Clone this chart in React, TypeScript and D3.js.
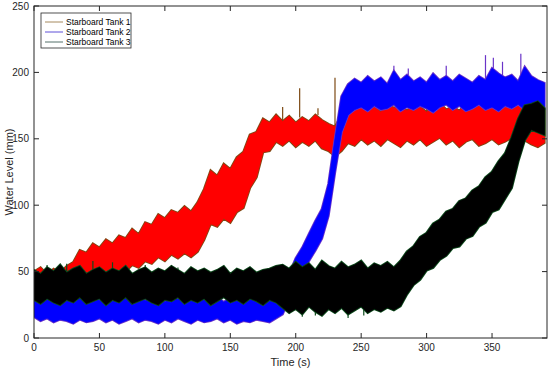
import React from 'react';
import * as d3 from 'd3';

// sample times (s), one every 5 s
const TIME = d3.range(0, 391, 5);

// Starboard Tank 1 band (mm)
const tank1Lo = [38, 35, 39, 36, 34, 37,
  36, 41, 39, 45, 43, 48, 46, 51, 50, 55, 53, 58, 56, 61, 58, 63, 60, 64, 61, 65,
  74, 86, 84, 90, 87, 95, 98, 113, 121, 140, 141, 148,
  145, 149, 144, 148, 145, 149, 143, 141, 137,
  141, 147, 145, 150, 146, 149, 145, 150, 147, 144, 149, 146, 150, 145, 148, 151,
  146, 149, 144, 148, 150, 145, 147, 150, 146, 148, 151, 145, 149, 146, 144, 147];
const tank1Hi = [50, 53, 48, 52, 49, 54,
  57, 66, 64, 71, 68, 74, 71, 77, 75, 82, 78, 87, 85, 93, 90, 96, 94, 99, 95, 102,
  112, 126, 122, 131, 127, 136, 140, 153, 155, 165, 162, 168,
  163, 167, 162, 166, 163, 168, 164, 161, 159,
  168, 175, 171, 176, 172, 174, 170, 177, 173, 175, 171, 176, 174, 170, 175, 177,
  172, 174, 171, 176, 174, 184, 187, 179, 175, 178, 174, 182, 189, 180, 177, 172];
const tank1Spikes = [[190, 174], [203, 188], [217, 173], [230, 196], [262, 180], [283, 181],
  [300, 180], [320, 178], [345, 190], [372, 192]];

// Starboard Tank 2 band (mm)
const tank2Lo = [16, 13, 15, 12, 14, 13, 11, 14, 12, 13, 15, 12, 14, 11, 13, 15, 12, 14, 13, 11,
  14, 12, 15, 13, 11, 14, 12, 13, 15, 12, 14, 11, 13, 12, 14, 13, 12, 15,
  18, 30, 42, 50, 58, 66, 75, 92, 125, 155, 168, 172,
  174, 171, 175, 172, 173, 176, 171, 174, 172, 175, 173, 170, 174, 176, 172, 175, 171, 173, 176, 172,
  174, 171, 175, 173, 176, 172, 174, 175, 173];
const tank2Hi = [31, 28, 33, 29, 32, 30, 27, 31, 29, 33, 28, 32, 30, 27, 31, 29, 33, 28, 30, 32,
  27, 31, 29, 33, 30, 28, 32, 29, 31, 27, 30, 33, 28, 31, 29, 32, 30, 33,
  36, 48, 60, 68, 78, 88, 97, 116, 150, 182, 191, 195,
  192, 197, 193, 196, 191, 201, 194, 198, 193, 196, 192, 199, 194, 197, 193, 198, 195, 192, 197, 194,
  203, 199, 196, 198, 193, 204, 197, 194, 192];
const tank2Spikes = [[275, 205], [286, 203], [315, 205], [345, 213], [351, 211], [358, 208], [372, 214]];

// Starboard Tank 3 band (mm)
const tank3Lo = [29, 26, 30, 27, 25, 29, 27, 31, 26, 28, 30, 25, 29, 27, 31, 26, 28, 30, 27, 25,
  29, 28, 31, 26, 29, 27, 30, 25, 28, 31, 27, 29, 26, 30, 28, 25, 29, 27,
  23, 19, 22, 18, 24, 20, 17, 22, 19, 23, 18, 21, 24, 19, 22, 20, 23, 21, 24,
  33, 40, 44, 51, 53, 59, 62, 68, 69, 75, 77, 84, 87, 95, 97, 105, 113, 133, 149, 157, 155, 153];
const tank3Hi = [51, 48, 53, 50, 55, 49, 52, 54, 48, 51, 53, 49, 52, 50, 54, 48, 51, 53, 49, 52,
  50, 54, 51, 48, 53, 50, 52, 49, 51, 54, 48, 52, 50, 53, 49, 51, 52, 54,
  55, 52, 57, 53, 56, 51, 58, 54, 52, 57, 53, 55, 58, 52, 56, 54, 57, 53, 58,
  65, 69, 76, 79, 86, 89, 95, 97, 103, 105, 111, 114, 121, 125, 133, 139, 151, 165, 175, 176, 178, 173];
const tank3Spikes = [[10, 55], [25, 56], [45, 58], [60, 57], [85, 55], [110, 53], [130, 52],
  [205, 16], [215, 17], [240, 15], [252, 17]];

const LABELS = ['Starboard Tank 1', 'Starboard Tank 2', 'Starboard Tank 3'];
const X_TICKS = [0, 50, 100, 150, 200, 250, 300, 350];
const Y_TICKS = [0, 50, 100, 150, 200, 250];

const W = 550;
const H = 370;
const FONT = '"Liberation Sans", Arial, sans-serif';

const x = d3.scaleLinear().domain([0, 392]).range([34, 547]);
const y = d3.scaleLinear().domain([0, 250]).range([338, 6]);

const tanks = [
  { lo: tank1Lo, hi: tank1Hi, spikes: tank1Spikes, color: '#ff0000', raw: '#7d4a14', legend: '#a68a5e' },
  { lo: tank2Lo, hi: tank2Hi, spikes: tank2Spikes, color: '#0000ff', raw: '#6a34c8', legend: '#5f50d8' },
  { lo: tank3Lo, hi: tank3Hi, spikes: tank3Spikes, color: '#000000', raw: '#0d4a1c', legend: '#55706a' },
];

const band = (lo: number[], hi: number[]) =>
  d3.area<number>()
    .x((t) => x(t))
    .y0((_, i) => y(lo[i]))
    .y1((_, i) => y(hi[i]))(TIME) || '';

export default function App() {
  const [x0, x1] = x.range();
  const [y0, y1] = y.range();
  return (
    <svg width={W} height={H} style={{ position: 'absolute', left: 0, top: 0, background: '#fff' }}>
      <defs>
        <clipPath id="plot">
          <rect x={x0} y={y1} width={x1 - x0} height={y0 - y1} />
        </clipPath>
      </defs>

      <g clipPath="url(#plot)">
        {tanks.map((tk, k) => {
          const d = band(tk.lo, tk.hi);
          return (
            <g key={k}>
              <path d={d} fill={tk.raw} stroke={tk.raw} strokeWidth={2.5} strokeLinejoin="miter" />
              {tk.spikes.map(([t, v], j) => {
                const i = Math.round(t / 5);
                const from = v > tk.hi[i] ? tk.hi[i] : tk.lo[i];
                return <line key={j} x1={x(t)} x2={x(t)} y1={y(from)} y2={y(v)} stroke={tk.raw} strokeWidth={1.2} />;
              })}
              <path d={d} fill={tk.color} stroke={tk.color} strokeWidth={0.8} strokeLinejoin="miter" />
            </g>
          );
        })}
      </g>

      {/* axes box */}
      <rect x={x0} y={y1} width={x1 - x0} height={y0 - y1} fill="none" stroke="#262626" strokeWidth={1} />
      {X_TICKS.map((t) => (
        <g key={'x' + t}>
          <line x1={x(t)} x2={x(t)} y1={y0} y2={y0 - 5} stroke="#262626" />
          <line x1={x(t)} x2={x(t)} y1={y1} y2={y1 + 5} stroke="#262626" />
          <text x={x(t)} y={y0 + 13} textAnchor="middle" fontFamily={FONT} fontSize={10} fill="#262626">{t}</text>
        </g>
      ))}
      {Y_TICKS.map((v) => (
        <g key={'y' + v}>
          <line x1={x0} x2={x0 + 5} y1={y(v)} y2={y(v)} stroke="#262626" />
          <line x1={x1} x2={x1 - 5} y1={y(v)} y2={y(v)} stroke="#262626" />
          <text x={x0 - 5} y={y(v) + 3.5} textAnchor="end" fontFamily={FONT} fontSize={10} fill="#262626">{v}</text>
        </g>
      ))}
      <text x={(x0 + x1) / 2} y={366} textAnchor="middle" fontFamily={FONT} fontSize={11} fill="#262626">Time (s)</text>
      <text transform={`translate(13,${(y0 + y1) / 2}) rotate(-90)`} textAnchor="middle" fontFamily={FONT} fontSize={11} fill="#262626">
        Water Level (mm)
      </text>

      {/* legend */}
      <g transform="translate(41,13)">
        <rect width={90} height={35} fill="#fff" stroke="#262626" strokeWidth={0.8} />
        {LABELS.map((lab, i) => (
          <g key={lab} transform={`translate(0,${9 + i * 10})`}>
            <line x1={4} x2={22} y1={0} y2={0} stroke={tanks[i].legend} strokeWidth={1} />
            <text x={25} y={3} fontFamily={FONT} fontSize={8.5} fill="#000">{lab}</text>
          </g>
        ))}
      </g>
    </svg>
  );
}
